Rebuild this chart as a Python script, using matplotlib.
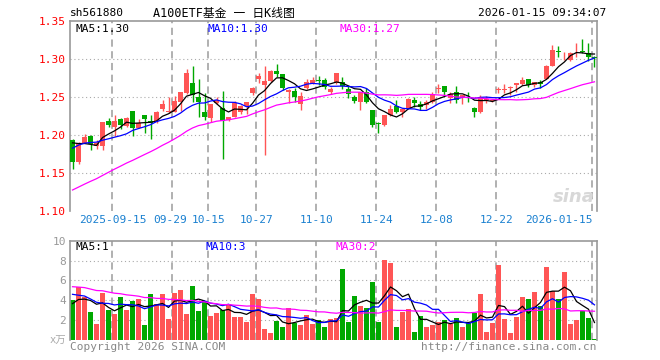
import matplotlib
matplotlib.use("Agg")
import matplotlib.pyplot as plt
import numpy as np
import pandas as pd

# daily bars (2025-09-04 .. 2026-01-15), price in yuan, volume in 万
opens = [1.1939, 1.1653, 1.1904, 1.1991, 1.1860, 1.1860, 1.2189, 1.2105, 1.2215, 1.2127,
         1.2325, 1.2096, 1.2263, 1.2184, 1.2189, 1.2351, 1.2307, 1.2311, 1.2443, 1.2553,
         1.2693, 1.2500, 1.2307, 1.2224, 1.2421, 1.2355, 1.2202, 1.2246, 1.2311, 1.2386,
         1.2553, 1.2737, 1.2662, 1.2719, 1.2847, 1.2807, 1.2575, 1.2584, 1.2412, 1.2618,
         1.2693, 1.2728, 1.2728, 1.2566, 1.2693, 1.2706, 1.2605, 1.2500, 1.2443, 1.2575,
         1.2333, 1.2158, 1.2136, 1.2268, 1.2386, 1.2311, 1.2342, 1.2465, 1.2412, 1.2399,
         1.2443, 1.2605, 1.2649, 1.2487, 1.2566, 1.2487, 1.2469, 1.2360, 1.2311, 1.2470,
         1.2452, 1.2596, 1.2596, 1.2618, 1.2662, 1.2675, 1.2737, 1.2662, 1.2706, 1.2737,
         1.2912, 1.3110, 1.3013, 1.2991, 1.3105, 1.3110, 1.3079, 1.3035]
highs = [1.1945, 1.1912, 1.2018, 1.2000, 1.1935, 1.2175, 1.2228, 1.2263, 1.2228, 1.2236,
         1.2325, 1.2211, 1.2263, 1.2263, 1.2325, 1.2465, 1.2500, 1.2518, 1.2575, 1.2868,
         1.2912, 1.2737, 1.2561, 1.2408, 1.2509, 1.2584, 1.2237, 1.2452, 1.2395, 1.2440,
         1.2640, 1.2816, 1.2912, 1.2860, 1.2939, 1.2807, 1.2605, 1.2627, 1.2575, 1.2737,
         1.2772, 1.2781, 1.2750, 1.2640, 1.2825, 1.2772, 1.2649, 1.2530, 1.2575, 1.2618,
         1.2333, 1.2180, 1.2268, 1.2399, 1.2465, 1.2346, 1.2487, 1.2509, 1.2452, 1.2465,
         1.2566, 1.2675, 1.2649, 1.2575, 1.2649, 1.2531, 1.2575, 1.2377, 1.2531, 1.2518,
         1.2474, 1.2632, 1.2671, 1.2649, 1.2693, 1.2772, 1.2737, 1.2706, 1.2728, 1.2925,
         1.3189, 1.3175, 1.3101, 1.3097, 1.3210, 1.3263, 1.3210, 1.3044]
lows = [1.1561, 1.1618, 1.1900, 1.1807, 1.1820, 1.1807, 1.2105, 1.1991, 1.2079, 1.2105,
        1.1991, 1.2090, 1.2035, 1.1947, 1.2158, 1.2325, 1.2298, 1.2311, 1.2325, 1.2544,
        1.2443, 1.2246, 1.2202, 1.2180, 1.2412, 1.1684, 1.2185, 1.2240, 1.2276, 1.2276,
        1.2531, 1.2693, 1.1741, 1.2706, 1.2772, 1.2597, 1.2421, 1.2443, 1.2333, 1.2610,
        1.2680, 1.2662, 1.2605, 1.2544, 1.2680, 1.2605, 1.2487, 1.2430, 1.2333, 1.2421,
        1.2105, 1.2035, 1.2123, 1.2254, 1.2289, 1.2246, 1.2342, 1.2377, 1.2333, 1.2346,
        1.2430, 1.2561, 1.2531, 1.2421, 1.2430, 1.2412, 1.2443, 1.2246, 1.2298, 1.2430,
        1.2443, 1.2561, 1.2561, 1.2531, 1.2575, 1.2662, 1.2640, 1.2640, 1.2618, 1.2737,
        1.2912, 1.3035, 1.2990, 1.2982, 1.3035, 1.3079, 1.2982, 1.2895]
closes = [1.1653, 1.1904, 1.1982, 1.1886, 1.1905, 1.2175, 1.2136, 1.2189, 1.2136, 1.2228,
          1.2096, 1.2158, 1.2215, 1.2158, 1.2311, 1.2412, 1.2320, 1.2452, 1.2575, 1.2816,
          1.2531, 1.2443, 1.2237, 1.2408, 1.2465, 1.2189, 1.2237, 1.2430, 1.2386, 1.2434,
          1.2618, 1.2781, 1.2719, 1.2851, 1.2807, 1.2627, 1.2597, 1.2509, 1.2518, 1.2697,
          1.2728, 1.2719, 1.2640, 1.2605, 1.2816, 1.2649, 1.2539, 1.2455, 1.2566, 1.2443,
          1.2136, 1.2145, 1.2268, 1.2346, 1.2311, 1.2346, 1.2474, 1.2430, 1.2377, 1.2443,
          1.2539, 1.2618, 1.2575, 1.2539, 1.2465, 1.2531, 1.2465, 1.2311, 1.2509, 1.2476,
          1.2465, 1.2605, 1.2605, 1.2640, 1.2684, 1.2728, 1.2662, 1.2706, 1.2671, 1.2912,
          1.3123, 1.3101, 1.3022, 1.3088, 1.3110, 1.3101, 1.3035, 1.3013]
volumes = [4.0, 5.3, 4.3, 2.8, 1.6, 4.7, 3.0, 2.6, 4.3, 3.0,
           3.9, 4.1, 1.5, 4.6, 3.6, 4.6, 2.1, 4.7, 5.0, 2.6,
           5.4, 2.9, 3.8, 2.4, 2.7, 3.0, 3.5, 2.3, 2.3, 1.8,
           4.6, 4.1, 1.1, 0.7, 1.9, 1.3, 3.2, 1.7, 1.5, 2.5,
           1.6, 2.0, 1.3, 2.1, 2.2, 7.2, 1.8, 4.4, 3.4, 3.2,
           5.8, 1.8, 8.1, 7.8, 1.3, 2.8, 3.1, 0.8, 2.4, 1.3,
           1.5, 1.8, 2.0, 1.6, 2.2, 1.3, 1.7, 2.7, 4.6, 0.8,
           1.7, 7.6, 2.1, 0.7, 2.3, 4.3, 4.1, 4.8, 3.4, 7.4,
           4.9, 4.1, 6.8, 1.6, 2.0, 2.9, 2.2, 0.1]

# 29 days before the window, estimated from where the MA lines start
hist_close = [1.075, 1.082, 1.078, 1.086, 1.090, 1.088, 1.094, 1.097, 1.101, 1.104,
              1.100, 1.106, 1.104, 1.110, 1.108, 1.114, 1.112, 1.118, 1.120, 1.123,
              1.150, 1.172, 1.180, 1.186, 1.192, 1.195, 1.198, 1.194, 1.198]
hist_vol = [6.5, 5.8, 7.2, 6.0, 5.5, 6.8, 6.1, 5.9, 6.4, 5.7,
            6.3, 5.6, 4.8, 5.9, 5.0, 4.6, 5.4, 5.8, 4.9, 4.8,
            6.2, 5.1, 5.8, 4.9, 5.7, 3.2, 4.1, 3.5, 3.5]

# x-axis labels: (bar index, text)
date_ticks = [(7, "2025-09-15"), (17, "09-29"), (23, "10-15"), (31, "10-27"),
              (41, "11-10"), (51, "11-24"), (61, "12-08"), (71, "12-22"),
              (87, "2026-01-15")]
price_ticks = [1.10, 1.15, 1.20, 1.25, 1.30, 1.35]
vol_ticks = [2, 4, 6, 8, 10]

RED = "#ff5555"
GREEN = "#00a800"
GRID = "#aaaaaa"
FRAME = "#999999"
MONO = "DejaVu Sans Mono"

W, H = 660, 360


def rect(x0, y0, x1, y1):
    """pixel box (top-left origin) -> figure fraction rect"""
    return [x0 / W, 1 - y1 / H, (x1 - x0) / W, (y1 - y0) / H]


def ma(hist, values, n):
    s = pd.Series(list(hist) + list(values))
    return s.rolling(n).mean().to_numpy()[len(hist):]


def trunc2(val):
    # sina cuts the MA readout instead of rounding it
    return f"{np.floor(val * 100) / 100:.2f}"


o = np.array(opens)
h = np.array(highs)
l = np.array(lows)
c = np.array(closes)
v = np.array(volumes)
x = np.arange(len(c))
up = c >= o
colors = np.where(up, RED, GREEN)

fig = plt.figure(figsize=(W / 100, H / 100), dpi=100)
ax = fig.add_axes(rect(70, 21.3, 597, 211.3))
axv = fig.add_axes(rect(70, 240.7, 597, 340))

xlim = (-0.42, 87.42)
for a in (ax, axv):
    a.set_xlim(*xlim)
    a.set_xticks([])
    for sp in a.spines.values():
        sp.set_color(FRAME)
        sp.set_linewidth(1.2)
    a.spines["bottom"].set_visible(False)
    for idx, _ in date_ticks:
        a.axvline(idx - 0.35, color=GRID, lw=1.3, ls=(0, (4, 2.5)), zorder=0)
    a.tick_params(axis="y", length=0, pad=3)

# price panel
ax.set_ylim(1.10, 1.35)
ax.set_yticks(price_ticks)
ax.set_yticklabels([f"{t:.2f}" for t in price_ticks], color="red",
                   family=MONO, fontsize=8)
for t in price_ticks[1:-1]:
    ax.axhline(t, color=GRID, lw=0.8, ls=(0, (1, 2.5)), zorder=0)

ax.vlines(x, l, h, colors=colors, lw=1, zorder=2)
body = np.maximum(np.abs(c - o), 0.0005)
ax.bar(x, body, bottom=np.minimum(o, c), width=0.8, color=colors,
       linewidth=0, zorder=3)

ma5 = ma(hist_close, c, 5)
ma10 = ma(hist_close, c, 10)
ma30 = ma(hist_close, c, 30)
ax.plot(x, ma5, color="black", lw=0.9, zorder=4)
ax.plot(x, ma10, color="blue", lw=0.9, zorder=4)
ax.plot(x, ma30, color="#ff00ff", lw=0.9, zorder=4)

ax.text(5 / 527, 0.985, f"MA5:{trunc2(ma5[-1])}", transform=ax.transAxes,
        va="top", family=MONO, fontsize=8, color="black")
ax.text(137 / 527, 0.985, f"MA10:{trunc2(ma10[-1])}", transform=ax.transAxes,
        va="top", family=MONO, fontsize=8, color="blue")
ax.text(270 / 527, 0.985, f"MA30:{trunc2(ma30[-1])}", transform=ax.transAxes,
        va="top", family=MONO, fontsize=8, color="#ff00ff")
ax.text(0.995, 0.03, "sina", transform=ax.transAxes, ha="right", va="bottom",
        fontsize=13, fontweight="bold", style="italic", color="#d8d8d8",
        zorder=1)

# volume panel
axv.set_ylim(0, 10)
axv.set_yticks(vol_ticks)
axv.set_yticklabels([str(t) for t in vol_ticks], color="#999999",
                    family=MONO, fontsize=8)
for t in vol_ticks[:-1]:
    axv.axhline(t, color=GRID, lw=0.8, ls=(0, (1, 2.5)), zorder=0)
axv.bar(x, v, width=0.8, color=colors, linewidth=0, zorder=2)
vma5 = ma(hist_vol, v, 5)
vma10 = ma(hist_vol, v, 10)
vma30 = ma(hist_vol, v, 30)
axv.plot(x, vma5, color="black", lw=0.9, zorder=3)
axv.plot(x, vma10, color="blue", lw=0.9, zorder=3)
axv.plot(x, vma30, color="#ff00ff", lw=0.9, zorder=3)
axv.text(5 / 527, 0.985, f"MA5:{int(vma5[-1])}", transform=axv.transAxes,
         va="top", family=MONO, fontsize=8, color="black")
axv.text(135 / 527, 0.985, f"MA10:{int(vma10[-1])}", transform=axv.transAxes,
         va="top", family=MONO, fontsize=8, color="blue")
axv.text(265 / 527, 0.985, f"MA30:{int(vma30[-1])}", transform=axv.transAxes,
         va="top", family=MONO, fontsize=8, color="#ff00ff")

# date labels under the price panel
for idx, label in date_ticks:
    px = 72.5 + 6 * idx - 2.1
    ha = "center"
    if label == "09-29":
        px -= 2
    if idx == date_ticks[-1][0]:
        ha = "right"
    fig.text(px / W, 1 - 220 / H, label, ha=ha, va="center", family=MONO,
             fontsize=8, color="#1a80d0")

# header and footer text
fig.text(70 / W, 1 - 13 / H, "sh561880", va="center", family=MONO,
         fontsize=8, color="black")
fig.text(153 / W, 1 - 13 / H, "A100ETF基金 一 日K线图", va="center",
         family=[MONO, "Noto Sans CJK SC"], fontsize=8.5, color="black")
fig.text(606 / W, 1 - 13 / H, "2026-01-15 09:34:07", ha="right", va="center",
         family=MONO, fontsize=8, color="black")
fig.text(66 / W, 1 - 341 / H, "x万", ha="right", va="center",
         family=[MONO, "Noto Sans CJK SC"], fontsize=7.5, color="#aaaaaa")
fig.text(70 / W, 1 - 347 / H, "Copyright 2026 SINA.COM", va="center",
         family=MONO, fontsize=8, color="#888888")
fig.text(597 / W, 1 - 347 / H, "http://finance.sina.com.cn", ha="right",
         va="center", family=MONO, fontsize=8, color="#888888")

fig.savefig("out.png", dpi=100, facecolor="white")
